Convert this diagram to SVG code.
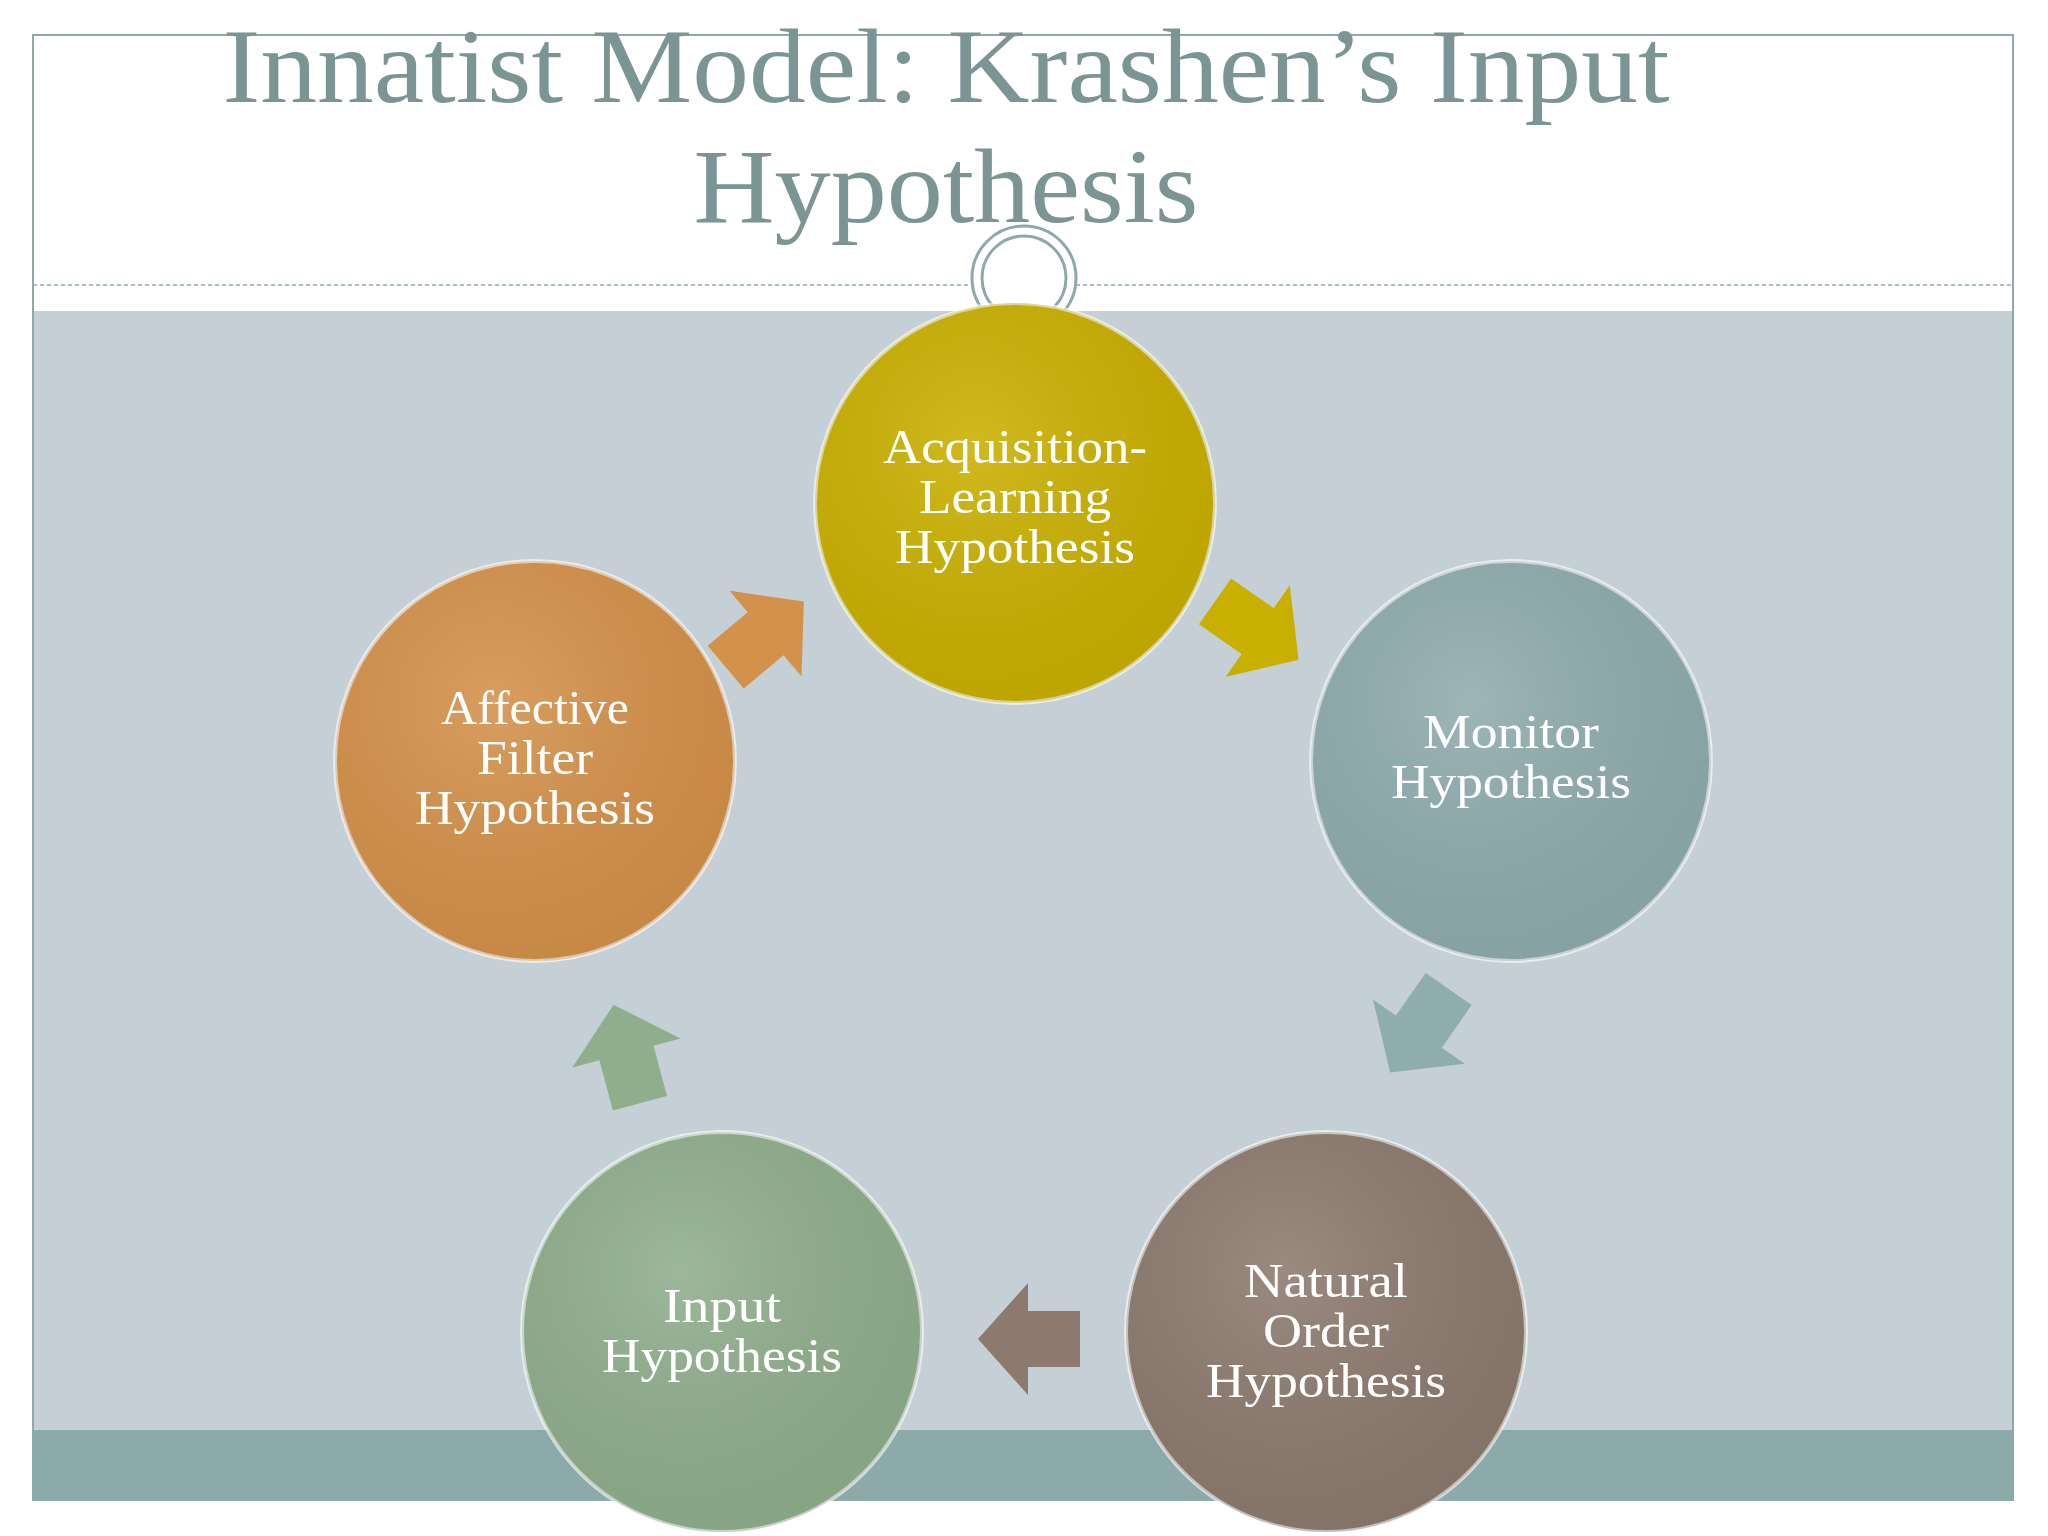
<svg xmlns="http://www.w3.org/2000/svg" width="2048" height="1536" viewBox="0 0 2048 1536">
<defs>
<style>
.t{font-family:"Liberation Serif",serif;fill:#fff;font-size:48px;text-anchor:middle}
.h{font-family:"Liberation Serif",serif;fill:#7A9594;font-size:106px;text-anchor:middle}
.c{stroke:#ffffff;stroke-opacity:0.6;stroke-width:4}
</style>
<polygon id="arr" points="-50,-28 2,-28 2,-56 52,0 2,56 2,28 -50,28"/>
<radialGradient id="sh" cx="0.4" cy="0.35" r="0.7"><stop offset="0" stop-color="#fff" stop-opacity="0.12"/><stop offset="1" stop-color="#000" stop-opacity="0.06"/></radialGradient>
</defs>
<rect width="2048" height="1536" fill="#fff"/>
<rect x="33" y="311" width="1980" height="1119" fill="#C4D0D6"/>
<rect x="33" y="1430" width="1980" height="70" fill="#8DAAAB"/>
<rect x="33" y="35" width="1980" height="1465" fill="none" stroke="#8DAAAB" stroke-width="2"/>
<line x1="33" y1="285" x2="2013" y2="285" stroke="#8DAAAB" stroke-width="1.5" stroke-dasharray="4,3"/>
<circle cx="1024" cy="278" r="52" fill="#fff" stroke="#8DAAAB" stroke-width="3"/>
<circle cx="1024" cy="278" r="42" fill="none" stroke="#8DAAAB" stroke-width="3"/>
<text class="h" x="946" y="102" textLength="1447" lengthAdjust="spacingAndGlyphs">Innatist Model: Krashen’s Input</text>
<text class="h" x="946" y="222" textLength="505" lengthAdjust="spacingAndGlyphs">Hypothesis</text>
<g id="connectors">
<use href="#arr" fill="#C9B000" transform="translate(1256,630) rotate(35)"/>
<use href="#arr" fill="#8FACAE" transform="translate(1420,1030) rotate(125)"/>
<use href="#arr" fill="#8C7A6E" transform="translate(1030,1339) rotate(180)"/>
<use href="#arr" fill="#8FAE8C" transform="translate(627,1055) rotate(-105)"/>
<use href="#arr" fill="#D4914A" transform="translate(764,635) rotate(-40)"/>
</g>
<g id="acq"><circle class="c" cx="1015" cy="503" r="200" fill="#C9B000"/><circle cx="1015" cy="503" r="200" fill="url(#sh)"/>
<text class="t" x="1015" y="463" textLength="264" lengthAdjust="spacingAndGlyphs">Acquisition-</text><text class="t" x="1015" y="513" textLength="192" lengthAdjust="spacingAndGlyphs">Learning</text><text class="t" x="1015" y="563" textLength="240" lengthAdjust="spacingAndGlyphs">Hypothesis</text></g>
<g id="monitor"><circle class="c" cx="1511" cy="761" r="200" fill="#8FACAE"/><circle cx="1511" cy="761" r="200" fill="url(#sh)"/>
<text class="t" x="1511" y="748" textLength="176" lengthAdjust="spacingAndGlyphs">Monitor</text><text class="t" x="1511" y="798" textLength="240" lengthAdjust="spacingAndGlyphs">Hypothesis</text></g>
<g id="natural"><circle class="c" cx="1326" cy="1332" r="200" fill="#8C7A6E"/><circle cx="1326" cy="1332" r="200" fill="url(#sh)"/>
<text class="t" x="1326" y="1297" textLength="164" lengthAdjust="spacingAndGlyphs">Natural</text><text class="t" x="1326" y="1347" textLength="126" lengthAdjust="spacingAndGlyphs">Order</text><text class="t" x="1326" y="1397" textLength="240" lengthAdjust="spacingAndGlyphs">Hypothesis</text></g>
<g id="input"><circle class="c" cx="722" cy="1332" r="200" fill="#8FAE8C"/><circle cx="722" cy="1332" r="200" fill="url(#sh)"/>
<text class="t" x="722" y="1322" textLength="118" lengthAdjust="spacingAndGlyphs">Input</text><text class="t" x="722" y="1372" textLength="240" lengthAdjust="spacingAndGlyphs">Hypothesis</text></g>
<g id="affective"><circle class="c" cx="535" cy="761" r="200" fill="#D4914A"/><circle cx="535" cy="761" r="200" fill="url(#sh)"/>
<text class="t" x="535" y="724" textLength="188" lengthAdjust="spacingAndGlyphs">Affective</text><text class="t" x="535" y="774" textLength="116" lengthAdjust="spacingAndGlyphs">Filter</text><text class="t" x="535" y="824" textLength="240" lengthAdjust="spacingAndGlyphs">Hypothesis</text></g>
</svg>
